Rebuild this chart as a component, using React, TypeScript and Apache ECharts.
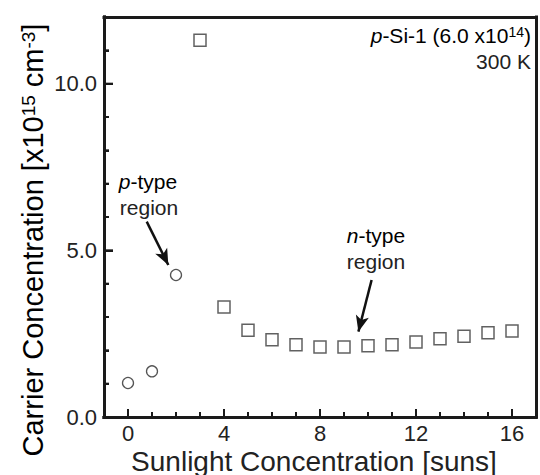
import React, { useEffect, useRef } from "react";
import * as echarts from "echarts";

// ---- data ----
const circleX = [0, 1, 2];
const circleY = [1.02, 1.37, 4.26];
const squareX = [3, 4, 5, 6, 7, 8, 9, 10, 11, 12, 13, 14, 15, 16];
const squareY = [11.3, 3.3, 2.6, 2.32, 2.17, 2.1, 2.1, 2.14, 2.17, 2.25, 2.35, 2.42, 2.53, 2.58];
const xMajorTicks = [0, 4, 8, 12, 16];
const yMajorTicks = [0, 5, 10];
const xTickValues = [0, 1, 2, 3, 4, 5, 6, 7, 8, 9, 10, 11, 12, 13, 14, 15, 16];
const yTickValues = [1, 2, 3, 4, 5, 6, 7, 8, 9, 10, 11];
// annotation arrows in data coordinates: [startX, startY, endX, endY]
const pArrow = [0.78, 5.86, 1.68, 4.56];
const nArrow = [10.15, 4.11, 9.6, 2.56];

const FONT = "'Liberation Sans', Arial, Helvetica, sans-serif";
const INK = "#1a1a1a";
const TXT = "#222";

export default function App() {
  const ref = useRef<HTMLDivElement>(null);
  useEffect(() => {
    if (!ref.current) return;
    const chart = echarts.init(ref.current, null, { renderer: "svg" });
    const tickStyle = { color: INK, width: 2 };
    const baseRich = {
      a: { fontSize: 21, fontFamily: FONT, color: TXT },
      i: { fontSize: 21, fontFamily: FONT, color: TXT, fontStyle: "italic" as const },
      s: { fontSize: 14, fontFamily: FONT, color: TXT, verticalAlign: "top" as const },
    };
    const titleRich = {
      a: { fontSize: 29, fontFamily: FONT, color: TXT },
      s: { fontSize: 19, fontFamily: FONT, color: TXT, verticalAlign: "top" as const },
    };
    const frameLine = { show: true, onZero: false, lineStyle: { color: INK, width: 3, cap: "square" } };
    const xRange = { type: "value", min: -1, max: 17, interval: 1, splitLine: { show: false } };
    const yRange = { type: "value", min: 0, max: 12, interval: 1, splitLine: { show: false } };
    chart.setOption({
      animation: false,
      grid: { left: 104, right: 4, top: 17, bottom: 58, show: false },
      xAxis: [
        {
          ...xRange,
          position: "bottom",
          axisLine: frameLine,
          axisTick: { show: true, inside: true, length: 5, lineStyle: tickStyle },
          axisLabel: { show: false },
        },
        {
          ...xRange,
          position: "bottom",
          axisLine: frameLine,
          axisTick: { show: true, inside: true, length: 8, customValues: xMajorTicks, lineStyle: tickStyle },
          axisLabel: {
            show: true,
            customValues: xMajorTicks,
            margin: 5,
            fontSize: 22,
            fontFamily: FONT,
            color: TXT,
          },
        },
        {
          ...xRange,
          position: "top",
          axisLine: frameLine,
          axisTick: { show: false },
          axisLabel: { show: false },
        },
      ],
      yAxis: [
        {
          ...yRange,
          position: "left",
          axisLine: frameLine,
          axisTick: { show: true, inside: true, length: 5, lineStyle: tickStyle },
          axisLabel: { show: false },
        },
        {
          ...yRange,
          position: "left",
          axisLine: frameLine,
          axisTick: { show: true, inside: true, length: 9, customValues: yMajorTicks, lineStyle: tickStyle },
          axisLabel: {
            show: true,
            customValues: yMajorTicks,
            margin: 7,
            fontSize: 22,
            fontFamily: FONT,
            color: TXT,
            formatter: (v: number) => v.toFixed(1),
          },
        },
        {
          ...yRange,
          position: "right",
          axisLine: frameLine,
          axisTick: { show: false },
          axisLabel: { show: false },
        },
      ],
      series: [
        {
          type: "custom",
          name: "x ticks",
          xAxisIndex: 0,
          yAxisIndex: 0,
          silent: true,
          z: 10,
          data: xTickValues.map((v) => [v, xMajorTicks.indexOf(v) >= 0 ? 1 : 0]),
          renderItem: (_params: any, api: any) => {
            const p = api.coord([api.value(0), 0]);
            const len = api.value(1) ? 8 : 5;
            return {
              type: "line",
              shape: { x1: p[0], y1: p[1], x2: p[0], y2: p[1] - len },
              style: { stroke: INK, lineWidth: 2 },
            };
          },
        },
        {
          type: "custom",
          name: "y ticks",
          xAxisIndex: 0,
          yAxisIndex: 0,
          silent: true,
          z: 10,
          data: yTickValues.map((v) => [yMajorTicks.indexOf(v) >= 0 ? 1 : 0, v]),
          renderItem: (_params: any, api: any) => {
            const p = api.coord([-1, api.value(1)]);
            const len = api.value(0) ? 9 : 5;
            return {
              type: "line",
              shape: { x1: p[0], y1: p[1], x2: p[0] + len, y2: p[1] },
              style: { stroke: INK, lineWidth: 2 },
            };
          },
        },
        {
          type: "scatter",
          name: "p-type",
          xAxisIndex: 0,
          yAxisIndex: 0,
          symbol: "circle",
          symbolSize: 11,
          itemStyle: { color: "#fff", borderColor: "#2a2a2a", borderWidth: 1.3 },
          data: circleX.map((x, i) => [x, circleY[i]]),
          z: 3,
          markLine: {
            silent: true,
            symbol: ["none", "arrow"],
            symbolSize: [10, 16],
            lineStyle: { color: "#111", width: 2.5, type: "solid" },
            label: { show: false },
            emphasis: { disabled: true },
            data: [
              [{ coord: [pArrow[0], pArrow[1]] }, { coord: [pArrow[2], pArrow[3]] }],
              [{ coord: [nArrow[0], nArrow[1]] }, { coord: [nArrow[2], nArrow[3]] }],
            ],
          },
        },
        {
          type: "scatter",
          name: "n-type",
          xAxisIndex: 0,
          yAxisIndex: 0,
          symbol: "rect",
          symbolSize: 12,
          itemStyle: { color: "#fff", borderColor: "#3a3a3a", borderWidth: 1.5 },
          data: squareX.map((x, i) => [x, squareY[i]]),
          z: 3,
        },
      ],
      graphic: [
        {
          type: "text",
          x: 531,
          y: 35,
          style: {
            text: "{i|p}{a|-Si-1 (6.0 x10}{s|14}{a|)}",
            rich: baseRich,
            align: "right",
            verticalAlign: "middle",
          },
        },
        {
          type: "text",
          x: 531,
          y: 61,
          style: { text: "300 K", font: `21px ${FONT}`, fill: TXT, align: "right", verticalAlign: "middle" },
        },
        {
          type: "text",
          x: 148,
          y: 181,
          style: { text: "{i|p}{a|-type}", rich: baseRich, align: "center", verticalAlign: "middle" },
        },
        {
          type: "text",
          x: 149,
          y: 207,
          style: { text: "region", font: `21px ${FONT}`, fill: TXT, align: "center", verticalAlign: "middle" },
        },
        {
          type: "text",
          x: 376,
          y: 235,
          style: { text: "{i|n}{a|-type}", rich: baseRich, align: "center", verticalAlign: "middle" },
        },
        {
          type: "text",
          x: 376,
          y: 261,
          style: { text: "region", font: `21px ${FONT}`, fill: TXT, align: "center", verticalAlign: "middle" },
        },
        {
          type: "text",
          x: 314,
          y: 461,
          style: {
            text: "Sunlight Concentration [suns]",
            font: `28px ${FONT}`,
            fill: TXT,
            align: "center",
            verticalAlign: "middle",
          },
        },
        {
          type: "text",
          x: 33,
          y: 240,
          rotation: Math.PI / 2,
          style: {
            text: "{a|Carrier Concentration [x10}{s|15}{a| cm}{s|-3}{a|]}",
            rich: titleRich,
            align: "center",
            verticalAlign: "middle",
          },
        },
      ],
    });
    return () => chart.dispose();
  }, []);
  return <div ref={ref} style={{ width: 540, height: 475, position: "absolute", left: 0, top: 0 }} />;
}
